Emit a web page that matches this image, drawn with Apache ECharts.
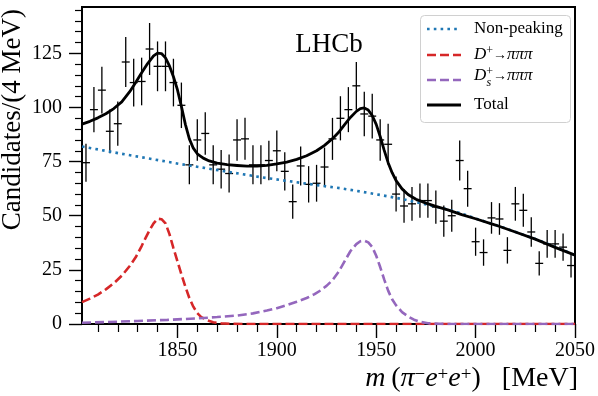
<!DOCTYPE html>
<html>
<head>
<meta charset="utf-8">
<script src="https://cdn.jsdelivr.net/npm/echarts@6/dist/echarts.min.js"></script>
<style>html,body{margin:0;padding:0;background:#fff;}#c{width:598px;height:396px;}</style>
</head>
<body>
<div id="c"></div>
<script>
// ---- data ----
const binCenters = [1804,1808,1812,1816,1820,1824,1828,1832,1836,1840,1844,1848,1852,1856,1860,1864,1868,1872,1876,1880,1884,1888,1892,1896,1900,1904,1908,1912,1916,1920,1924,1928,1932,1936,1940,1944,1948,1952,1956,1960,1964,1968,1972,1976,1980,1984,1988,1992,1996,2000,2004,2008,2012,2016,2020,2024,2028,2032,2036,2040,2044,2048];
const counts = [74.5,99,108,89,92.5,121,111.5,112,127,119,119,111.5,101,73.5,85,88,73.5,71.5,69.5,85,85.5,73.5,73.5,75.5,80,70.5,56.5,73,64.5,65,72.5,85.5,95,99,110,97,96,85,83,60,54.5,55.5,57,57,54,47.5,50,75.5,62.5,38,33,49,48.5,34,55.5,52.5,42.5,28,37,37,35.5,27];
const errors = [8.8,10.4,10.8,10.1,10.2,11.5,11,11,12,11.5,11.5,11,10.5,9,9.6,9.8,9,8.9,8.8,9.6,9.7,9,9,9.1,9.4,8.8,7.9,9,8.4,8.5,9,9.7,10.2,10.4,11,10.3,10.3,9.6,9.5,8.1,7.7,7.8,7.9,7.9,7.7,7.2,7.4,9.2,8.3,6.5,6.1,7.3,7.3,6.1,7.8,7.6,6.8,5.6,6.4,6.4,6.3,5.5];
const binHalfWidth = 2;

const bkgMass = [1802,1812,1822,1832,1842,1852,1862,1872,1882,1892,1902,1912,1922,1932,1942,1952,1962,1972,1982,1992,2002,2012,2022,2032,2042,2050];
const bkgVals = [82.0,80.3,78.6,77.0,75.4,73.8,72.3,70.8,69.3,67.8,66.5,65.2,63.9,62.7,61.2,59.6,57.9,55.9,53.8,51.3,48.1,45.1,41.9,38.6,34.8,31.8];

const dpMass = [1802,1806,1810,1814,1818,1822,1826,1829,1832,1834,1836,1838,1840,1841,1842,1844,1846,1848,1850,1852,1854,1856,1858,1860,1862,1865,1868,1872,1878,1885,2050];
const dpVals = [10.1,11.7,13.6,16.0,18.8,22.3,26.8,30.8,36.0,39.8,43.3,46.5,48.6,49.0,48.4,46.5,41.5,35.0,29.0,23.0,17.2,12.0,8.0,5.0,3.2,1.7,0.8,0.3,0.05,0,0];

const dsMass = [1802,1815,1830,1845,1860,1870,1880,1888,1895,1900,1905,1910,1915,1919,1922,1925,1928,1931,1934,1937,1940,1942,1944,1946,1948,1950,1952,1954,1956,1958,1960,1963,1966,1969,1972,1976,1982,1990,2050];
const dsVals = [0.6,0.9,1.4,1.9,2.6,3.2,3.9,4.9,6.2,7.3,8.7,10.3,12.0,13.8,15.5,17.6,20.2,24.0,28.8,33.6,36.9,38.2,38.5,37.7,35.6,31.5,26.3,20.6,15.4,11.4,8.6,5.5,3.5,2.0,1.0,0.35,0.05,0,0];

const totMass = [1802,1806,1810,1814,1818,1822,1826,1829,1832,1835,1838,1840,1842,1844,1846,1848,1850,1852,1854,1856,1858,1860,1863,1866,1870,1875,1880,1885,1890,1895,1900,1905,1910,1915,1920,1924,1928,1931,1934,1937,1940,1942,1944,1946,1948,1950,1952,1954,1956,1958,1960,1963,1966,1970,1975,1980,1986,1993,2000,2010,2020,2030,2040,2050];
const totVals = [92.3,93.6,95.2,97.1,99.5,102.6,107.3,111.5,116.0,120.3,123.8,125.1,124.9,122.9,119.2,114.2,108.2,100.5,92.2,85.5,81.2,78.6,76.6,75.3,74.3,73.6,73.2,72.9,72.9,73.3,73.9,74.8,76.0,77.7,80.0,82.5,85.6,88.4,92.0,95.4,98.2,99.5,99.8,98.8,96.3,92.2,86.6,80.3,74.5,69.9,66.2,62.4,59.8,57.6,55.8,54.3,52.7,50.5,48.6,45.7,42.5,39.2,35.4,31.8];

const xMajorTicks = [1850,1900,1950,2000,2050];
const xMinorTicks = [1810,1820,1830,1840,1860,1870,1880,1890,1910,1920,1930,1940,1960,1970,1980,1990,2010,2020,2030,2040];
const yMajorTicks = [0,25,50,75,100,125];
const yMinorTicks = [5,10,15,20,30,35,40,45,55,60,65,70,80,85,90,95,105,110,115,120,130,135,140,145];

const legendNames = ['Non-peaking','D+→πππ','Ds+→πππ','Total'];
// --------------------------------------

const zip = (a, b) => a.map((v, i) => [v, b[i]]);
const pointData = binCenters.map((m, i) => [m, counts[i], errors[i]]);

const SERIF = '"Liberation Serif", "Times New Roman", serif';
const chart = echarts.init(document.getElementById('c'), null, {renderer: 'canvas'});

const xBase = {min: 1802, max: 2050, type: 'value', splitLine: {show: false}, axisLine: {show: false}};
const yBase = {min: 0, max: 146.4, type: 'value', splitLine: {show: false}, axisLine: {show: false}};
const plain = v => String(v);

const option = {
  animation: false,
  backgroundColor: '#fff',
  grid: {left: 82, right: 20, top: 7, bottom: 72, show: true, borderColor: '#000', borderWidth: 2, backgroundColor: 'transparent'},
  xAxis: [
    Object.assign({}, xBase, {
      position: 'bottom',
      axisTick: {show: true, inside: false, length: 14, lineStyle: {color: '#000', width: 1.4}, customValues: xMajorTicks},
      axisLabel: {show: true, margin: 17, color: '#000', fontFamily: SERIF, fontSize: 20, customValues: xMajorTicks, formatter: plain}
    }),
    Object.assign({}, xBase, {
      position: 'bottom',
      axisTick: {show: true, inside: false, length: 8, lineStyle: {color: '#000', width: 1.2}, customValues: xMinorTicks},
      axisLabel: {show: false}
    })
  ],
  yAxis: [
    Object.assign({}, yBase, {
      position: 'left',
      axisTick: {show: true, inside: false, length: 13, lineStyle: {color: '#000', width: 1.4}, customValues: yMajorTicks},
      axisLabel: {show: true, margin: 20, color: '#000', fontFamily: SERIF, fontSize: 20, customValues: yMajorTicks, formatter: plain}
    }),
    Object.assign({}, yBase, {
      position: 'left',
      axisTick: {show: true, inside: false, length: 7, lineStyle: {color: '#000', width: 1.2}, customValues: yMinorTicks},
      axisLabel: {show: false}
    })
  ],
  series: [
    {
      type: 'custom', name: 'Data', xAxisIndex: 0, yAxisIndex: 0, z: 1,
      data: pointData,
      renderItem: function (params, api) {
        const x = api.value(0), y = api.value(1), e = api.value(2);
        const t = api.coord([x, y + e]), b = api.coord([x, y - e]);
        const l = api.coord([x - binHalfWidth, y]), r = api.coord([x + binHalfWidth, y]);
        return {type: 'group', children: [
          {type: 'line', shape: {x1: t[0], y1: t[1], x2: b[0], y2: b[1]}, style: {stroke: '#000', lineWidth: 1.3}},
          {type: 'line', shape: {x1: l[0], y1: l[1], x2: r[0], y2: r[1]}, style: {stroke: '#000', lineWidth: 1.3}}
        ]};
      }
    },
    {
      type: 'line', name: legendNames[0], data: zip(bkgMass, bkgVals), showSymbol: false, symbol: 'none', smooth: false, z: 3,
      lineStyle: {color: '#1f77b4', width: 2.6, type: [2.6, 4.2], cap: 'butt'}
    },
    {
      type: 'line', name: legendNames[1], data: zip(dpMass, dpVals), showSymbol: false, symbol: 'none', smooth: false, z: 3,
      lineStyle: {color: '#d62728', width: 2.6, type: [9, 4], cap: 'butt'}
    },
    {
      type: 'line', name: legendNames[2], data: zip(dsMass, dsVals), showSymbol: false, symbol: 'none', smooth: false, z: 3,
      lineStyle: {color: '#9467bd', width: 2.6, type: [9, 4], cap: 'butt'}
    },
    {
      type: 'line', name: legendNames[3], data: zip(totMass, totVals), showSymbol: false, symbol: 'none', smooth: false, z: 4,
      lineStyle: {color: '#000', width: 2.8, join: 'round'}
    }
  ],
  graphic: [
    {type: 'text', x: 329, y: 45, z: 50, style: {text: 'LHCb', fontFamily: SERIF, fontSize: 27, fill: '#000', align: 'center', verticalAlign: 'middle'}},
    {type: 'text', x: 13, y: 9, rotation: Math.PI / 2, z: 50, style: {text: 'Candidates/(4 MeV)', fontFamily: SERIF, fontSize: 27, fill: '#000', align: 'right', verticalAlign: 'middle'}},
    {type: 'text', x: 578, y: 379, z: 50, style: {
      text: '{i|m}{n|\u2009(}{i|π}{s|−}{i|e}{s|+}{i|e}{s|+}{n|)\u2002 [MeV]}',
      align: 'right', verticalAlign: 'middle', fill: '#000',
      rich: {
        i: {fontFamily: SERIF, fontStyle: 'italic', fontSize: 28, lineHeight: 26, fill: '#000'},
        n: {fontFamily: SERIF, fontSize: 28, lineHeight: 26, fill: '#000'},
        s: {fontFamily: SERIF, fontSize: 19, lineHeight: 18, verticalAlign: 'top', fill: '#000'}
      }
    }},
    // legend
    {type: 'rect', z: 60, shape: {x: 420.5, y: 15.5, width: 150, height: 107, r: 4}, style: {fill: 'rgba(255,255,255,0.85)', stroke: '#d0d0d0', lineWidth: 1}},
    {type: 'line', z: 61, shape: {x1: 427, y1: 29, x2: 461, y2: 29}, style: {stroke: '#1f77b4', lineWidth: 2.6, lineDash: [2.6, 4.2]}},
    {type: 'line', z: 61, shape: {x1: 427, y1: 55, x2: 461, y2: 55}, style: {stroke: '#d62728', lineWidth: 2.6, lineDash: [9, 4]}},
    {type: 'line', z: 61, shape: {x1: 427, y1: 80, x2: 461, y2: 80}, style: {stroke: '#9467bd', lineWidth: 2.6, lineDash: [9, 4]}},
    {type: 'line', z: 61, shape: {x1: 427, y1: 105, x2: 461, y2: 105}, style: {stroke: '#000', lineWidth: 2.8}},
    {type: 'text', z: 61, x: 474, y: 29, style: {text: 'Non-peaking', fontFamily: SERIF, fontSize: 17, fill: '#000', verticalAlign: 'middle'}},
    {type: 'text', z: 61, x: 474, y: 55, style: {
      text: '{i|D}{s|+}{a|→}{i|πππ}', verticalAlign: 'middle', fill: '#000',
      rich: {
        i: {fontFamily: SERIF, fontStyle: 'italic', fontSize: 17, lineHeight: 20, fill: '#000'},
        a: {fontFamily: SERIF, fontSize: 14, lineHeight: 20, fill: '#000'},
        s: {fontFamily: SERIF, fontSize: 12, lineHeight: 12, verticalAlign: 'top', fill: '#000'}
      }
    }},
    {type: 'text', z: 61, x: 474, y: 76, style: {
      text: '{i|D}{s|+}{a|→}{i|πππ}', verticalAlign: 'middle', fill: '#000',
      rich: {
        i: {fontFamily: SERIF, fontStyle: 'italic', fontSize: 17, lineHeight: 20, fill: '#000'},
        a: {fontFamily: SERIF, fontSize: 14, lineHeight: 20, fill: '#000'},
        s: {fontFamily: SERIF, fontSize: 12, lineHeight: 12, verticalAlign: 'top', fill: '#000'}
      }
    }},
    {type: 'text', z: 61, x: 486.5, y: 83, style: {text: 's', fontFamily: SERIF, fontStyle: 'italic', fontSize: 12, fill: '#000', verticalAlign: 'middle'}},
    {type: 'text', z: 61, x: 474, y: 105, style: {text: 'Total', fontFamily: SERIF, fontSize: 17, fill: '#000', verticalAlign: 'middle'}}
  ]
};
chart.setOption(option);
</script>
</body>
</html>
